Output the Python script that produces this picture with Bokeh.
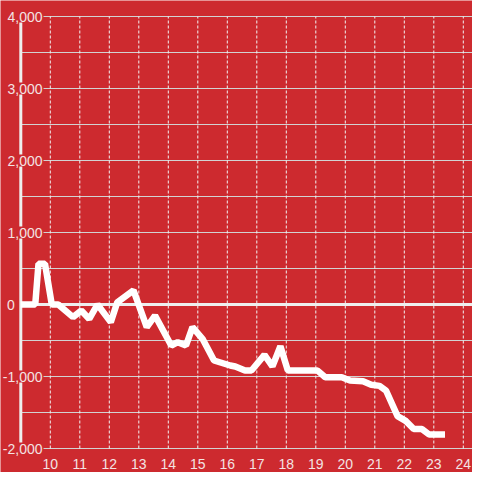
from bokeh.plotting import figure
from bokeh.models import Range1d, Label
from bokeh.embed import file_html
from bokeh.resources import INLINE

# data (hour of day, value)
hours = [9.0, 9.49, 9.6, 9.82, 10.05, 10.27, 10.77, 11.05, 11.32, 11.6,
         12.05, 12.27, 12.82, 13.27, 13.55, 14.1, 14.32, 14.6, 14.82, 15.16,
         15.55, 16.1, 16.27, 16.6, 16.82, 17.26, 17.53, 17.8, 18.05, 19.05,
         19.32, 19.88, 20.16, 20.6, 20.88, 21.16, 21.38, 21.77, 22.06, 22.32,
         22.6, 22.84, 23.38]
values = [0, 0, 565, 565, 0, 0, -175, -85, -200, 0,
          -245, 30, 195, -315, -153, -570, -523, -570, -315, -476,
          -778, -847, -861, -917, -917, -700, -860, -580, -915, -915,
          -1010, -1010, -1055, -1065, -1115, -1130, -1195, -1550, -1620, -1730,
          -1730, -1805, -1805]

y_label_values = [4000, 3000, 2000, 1000, 0, -1000, -2000]
y_label_texts = ["4,000", "3,000", "2,000", "1,000", "0", "-1,000", "-2,000"]
x_tick_values = list(range(10, 25))
x_tick_texts = [str(h) for h in x_tick_values]
y_grid_values = [-2000, -1500, -1000, -500, 0, 500, 1000, 1500, 2000, 2500, 3000, 3500, 4000]

RED = "#cd2a2f"
TXT = "#f3e3e3"
FONT = "Liberation Sans"

W = H = 472
PX_PER_HOUR = 29.5
PX_PER_UNIT = 0.072
X0 = 9.0            # hour where the value axis sits
AXIS_PX = 20.3      # its pixel column
TOP_PX = 16.0       # pixel row of the 4000 line
Y_TOP = 4000 + TOP_PX / PX_PER_UNIT
Y_BOT = Y_TOP - H / PX_PER_UNIT
X_START = X0 - AXIS_PX / PX_PER_HOUR
X_END = X_START + W / PX_PER_HOUR

p = figure(width=W, height=H,
           x_range=Range1d(X_START, X_END), y_range=Range1d(Y_BOT, Y_TOP),
           output_backend="svg", toolbar_location=None, min_border=0,
           background_fill_color=RED, border_fill_color=RED,
           outline_line_color=None)
p.axis.visible = False
p.grid.visible = False

y_min, y_max = min(y_grid_values), max(y_grid_values)
n = len(y_grid_values)
# horizontal grid lines, from the value axis to the right edge
p.segment(x0=[X0] * n, y0=y_grid_values, x1=[X_END] * n, y1=y_grid_values,
          line_color="#d2d2d2", line_width=1)
# vertical dashed hour lines
m = len(x_tick_values)
p.segment(x0=x_tick_values, y0=[y_min] * m, x1=x_tick_values, y1=[y_max] * m,
          line_color="#f2f2f2", line_width=1, line_dash="3 2")
# zero line and value axis line
p.segment(x0=[X0], y0=[0], x1=[X_END], y1=[0], line_color="#eeeeee", line_width=3)
p.segment(x0=[X0], y0=[y_min], x1=[X0], y1=[y_max], line_color="#eeeeee", line_width=3)

p.line(hours, values, line_color="white", line_width=6.5)

for v, t in zip(y_label_values, y_label_texts):
    p.add_layout(Label(x=X0, y=v, text=t,
                       x_offset=(-5 if v == 0 else 22.7),
                       text_align="right", text_baseline="middle",
                       text_font=FONT, text_font_size="14px",
                       text_color=TXT, background_fill_color=RED,
                       padding=1))

for h, t in zip(x_tick_values, x_tick_texts):
    p.add_layout(Label(x=h, y=y_min, text=t, y_offset=-15,
                       text_align="center", text_baseline="middle",
                       text_font=FONT, text_font_size="14px",
                       text_color=TXT))

open("out.html", "w").write(file_html(p, INLINE))
